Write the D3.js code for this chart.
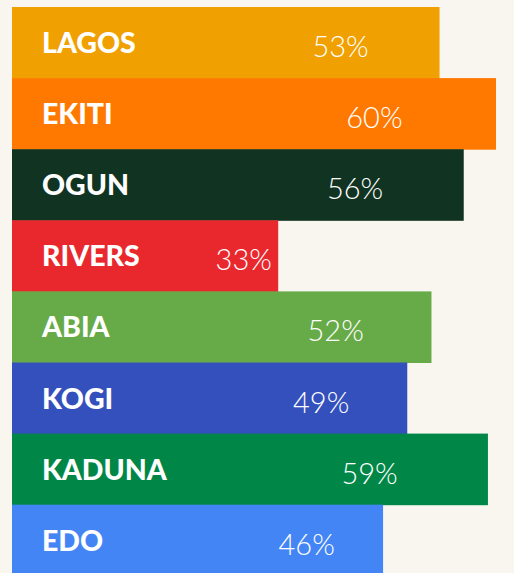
<!DOCTYPE html>
<html>
<head>
<meta charset="utf-8">
<script src="https://cdn.jsdelivr.net/npm/d3@7"></script>
<style>
  html, body { margin: 0; padding: 0; background: #f9f5ef; }
  svg { display: block; }
</style>
</head>
<body>
<svg id="chart"></svg>
<script>
const width = 514;
const height = 573;

const states = ["LAGOS", "EKITI", "OGUN", "RIVERS", "ABIA", "KOGI", "KADUNA", "EDO"];
const values = [53, 60, 56, 33, 52, 49, 59, 46];
const colors = ["#f0a000", "#ff7900", "#113322", "#e9282d", "#67ab48", "#3450bc", "#008747", "#4385f4"];

const data = states.map((s, i) => ({ state: s, value: values[i], color: colors[i] }));

const svg = d3.select("#chart")
    .attr("width", width)
    .attr("height", height);

svg.append("rect")
    .attr("width", width)
    .attr("height", height)
    .attr("fill", "#f9f5ef");

// horizontal scale: value -> bar length
const x = d3.scaleLinear()
    .domain([0, 60])
    .range([12, 12 + 484]);

const y = d3.scaleBand()
    .domain(states)
    .range([7, 7 + 8 * 71.1])
    .padding(0);

const rows = svg.selectAll("g.row")
    .data(data)
    .enter()
    .append("g")
    .attr("class", "row")
    .attr("transform", d => `translate(0, ${y(d.state)})`);

rows.append("rect")
    .attr("x", x(0))
    .attr("y", 0)
    .attr("width", d => x(d.value) - x(0))
    .attr("height", y.bandwidth() + 0.5)
    .attr("fill", d => d.color);

rows.append("text")
    .attr("x", 42)
    .attr("y", 46)
    .attr("fill", "#ffffff")
    .style("font-family", "Lato, 'Open Sans', sans-serif")
    .style("font-weight", 900)
    .style("font-size", "28.5px")
    .text(d => d.state);

// percentage labels sit a bit inside the bar end
rows.append("text")
    .attr("x", d => 84 + 0.6 * (x(d.value) - x(0)))
    .attr("y", 50)
    .attr("text-anchor", "middle")
    .attr("fill", "#ffffff")
    .style("font-family", "Lato, 'Open Sans', sans-serif")
    .style("font-weight", 300)
    .style("font-size", "29px")
    .text(d => d.value + "%");
</script>
</body>
</html>
